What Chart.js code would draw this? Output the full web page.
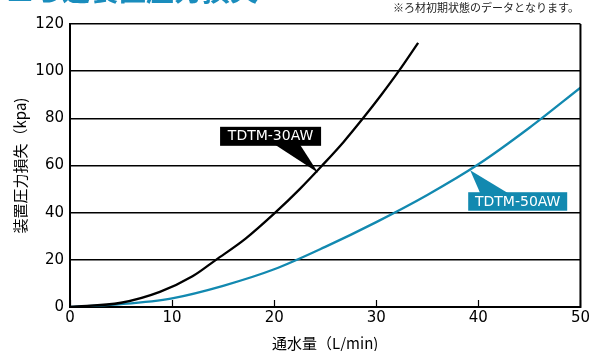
<!DOCTYPE html>
<html><head><meta charset="utf-8">
<script src="https://cdn.jsdelivr.net/npm/chart.js@4"></script>
<style>html,body{margin:0;padding:0;background:#fff;}#wrap{width:592px;height:351px;position:relative;}</style>
</head><body><div id="wrap"><canvas id="c" width="592" height="351"></canvas></div>
<script>
// Data
const xTicks = [0, 10, 20, 30, 40, 50];
const yTicks = [0, 20, 40, 60, 80, 100, 120];
const seriesNames = ['TDTM-30AW', 'TDTM-50AW'];
const flow30 = [0, 5, 8.8, 12, 14.3, 17.2, 20.1, 22.5, 24.7, 26.8, 28.7, 30.5, 32.2, 34.1];
const loss30 = [0, 1.8, 6.4, 13, 20, 29, 40, 50, 60, 70, 80, 90, 100, 112];
const flow50 = [0, 5, 10, 15, 20, 25, 30, 35, 40, 45, 50];
const loss50 = [0, 1.2, 3.7, 9, 16, 25.5, 36, 47.5, 60.5, 76, 93];
const titleText = '■ろ過装置圧力損失';
const noteText = '※ろ材初期状態のデータとなります。';
const yTitle = '装置圧力損失（kpa)';
const xTitle = '通水量（L/min)';
const callout30 = {x: 24.3, y: 56.9};
const callout50 = {x: 39.2, y: 58.0};

const BLUE = '#1289b0';
const toPts = (xs, ys) => xs.map((x, i) => ({x: x, y: ys[i]}));

const extras = {
  id: 'extras',
  afterDraw(chart) {
    const ctx = chart.ctx, xs = chart.scales.x, ys = chart.scales.y, a = chart.chartArea;
    ctx.save();
    // right border
    ctx.strokeStyle = '#000'; ctx.lineWidth = 2;
    ctx.beginPath(); ctx.moveTo(a.right, a.top); ctx.lineTo(a.right, a.bottom + 1); ctx.stroke();
    // inward ticks
    ctx.lineWidth = 1.2;
    xTicks.forEach(v => {
      const px = Math.round(xs.getPixelForValue(v)) + 0.5;
      ctx.beginPath(); ctx.moveTo(px, a.bottom); ctx.lineTo(px, a.bottom - 7); ctx.stroke();
    });
    // title (cut off at top)
    ctx.fillStyle = '#1a8dbd';
    ctx.font = 'bold 28px "Noto Sans CJK JP"';
    ctx.textBaseline = 'alphabetic'; ctx.textAlign = 'left';
    ctx.fillText(titleText, 6, 1);
    // note
    ctx.fillStyle = '#222';
    ctx.font = '11px "Noto Sans CJK JP"';
    ctx.textAlign = 'right'; ctx.textBaseline = 'middle';
    ctx.fillText(noteText, 579, 8);
    // callouts
    function callout(pt, name, bg, box, base) {
      const tx = xs.getPixelForValue(pt.x), ty = ys.getPixelForValue(pt.y);
      ctx.fillStyle = bg;
      ctx.beginPath();
      ctx.moveTo(tx, ty);
      ctx.lineTo(tx + base[0], ty + base[2]);
      ctx.lineTo(tx + base[1], ty + base[2]);
      ctx.closePath(); ctx.fill();
      ctx.fillRect(tx + box[0], ty + box[1], box[2] - box[0], box[3] - box[1]);
      ctx.fillStyle = '#fff';
      ctx.font = '14px "DejaVu Sans"';
      ctx.textAlign = 'center'; ctx.textBaseline = 'middle';
      ctx.fillText(name, tx + (box[0] + box[2]) / 2, ty + (box[1] + box[3]) / 2 + 0.5);
    }
    callout(callout30, seriesNames[0], '#000', [-98, -46, 3, -27], [-43, -18, -28]);
    callout(callout50, seriesNames[1], BLUE, [-2, 22, 97, 40.5], [10, 38, 23]);
    ctx.restore();
  }
};

new Chart(document.getElementById('c'), {
  type: 'line',
  data: {
    datasets: [
      {label: seriesNames[0], data: toPts(flow30, loss30), borderColor: '#000', borderWidth: 2.3, pointRadius: 0, cubicInterpolationMode: 'monotone', fill: false},
      {label: seriesNames[1], data: toPts(flow50, loss50), borderColor: BLUE, borderWidth: 2.3, pointRadius: 0, cubicInterpolationMode: 'monotone', fill: false}
    ]
  },
  options: {
    responsive: false, animation: false, devicePixelRatio: 1,
    layout: {padding: {top: 24, right: 11, left: 0, bottom: 0}},
    plugins: {legend: {display: false}, tooltip: {enabled: false}},
    scales: {
      x: {
        type: 'linear', min: 0, max: 50,
        afterFit: s => { s.height = 44; },
        afterBuildTicks: s => { s.ticks = xTicks.map(v => ({value: v})); },
        ticks: {color: '#000', font: {family: 'DejaVu Sans', size: 15}, padding: 2, maxRotation: 0},
        grid: {drawOnChartArea: false, drawTicks: false},
        border: {color: '#000', width: 2},
        title: {display: true, text: xTitle, color: '#000', font: {family: 'Noto Sans CJK JP', size: 15, lineHeight: 1}, padding: {top: 0, bottom: 0}}
      },
      y: {
        type: 'linear', min: 0, max: 120,
        afterFit: s => { s.width = 70; },
        afterBuildTicks: s => { s.ticks = yTicks.map(v => ({value: v})); },
        ticks: {color: '#000', font: {family: 'DejaVu Sans', size: 15}, padding: 6},
        grid: {color: '#000', lineWidth: 1.6, drawTicks: false},
        border: {color: '#000', width: 2},
        title: {display: true, text: yTitle, color: '#000', font: {family: 'Noto Sans CJK JP', size: 15, lineHeight: 1}, padding: {top: 13, bottom: 0}}
      }
    }
  },
  plugins: [extras]
});
</script></body></html>
